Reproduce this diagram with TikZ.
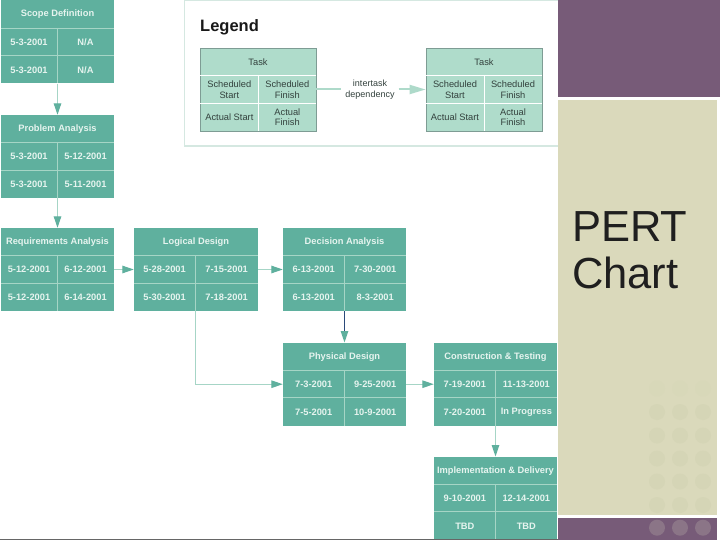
\documentclass[tikz,border=0pt]{standalone}
\usepackage{fontspec}
\setmainfont{Liberation Sans}
\usetikzlibrary{arrows.meta,calc}
\definecolor{teal1}{HTML}{5FB09E}
\definecolor{tealline}{HTML}{A6D5C6}
\definecolor{tealtext}{HTML}{E6F4EF}
\definecolor{leg}{HTML}{AFDCCB}
\definecolor{legborder}{HTML}{7E9C94}
\definecolor{legframe}{HTML}{D5E8E1}
\definecolor{legarrow}{HTML}{AEDACA}
\definecolor{legtext}{HTML}{33413D}
\definecolor{plum}{HTML}{775B78}
\definecolor{beige}{HTML}{DAD9BB}
\definecolor{plumdot}{HTML}{8B7587}
\definecolor{beigedot}{HTML}{D5D5B6}
\definecolor{beigefaint}{HTML}{D8D8B9}
\definecolor{navyline}{HTML}{2B4A7A}
\definecolor{edgegray}{HTML}{666666}
\tikzset{
  mainbox/.style={fill=teal1,inner sep=0pt},
  mainrule/.style={draw=tealline,line width=0.9pt},
  maintitle/.style={text=tealtext,font=\fontsize{9.3}{10.5}\selectfont\bfseries,inner sep=0pt},
  maincell/.style={text=tealtext,font=\fontsize{9.3}{10.5}\selectfont\bfseries,inner sep=0pt},
  legbox/.style={fill=leg,draw=legborder,line width=0.8pt,inner sep=0pt},
  legrule/.style={draw=white,line width=0.8pt},
  legtitle/.style={text=legtext,font=\fontsize{9.3}{10.5}\selectfont,inner sep=0pt},
  legcell/.style={text=legtext,font=\fontsize{9.3}{10.5}\selectfont,inner sep=0pt,align=center},
  flow/.style={draw=tealline,line width=1.2pt,-{Triangle[length=11.5pt,width=7.5pt,color=teal1]}},
  darkflow/.style={draw=navyline,line width=1.2pt,-{Triangle[length=11.5pt,width=7.5pt,color=teal1]}},
  legflow/.style={draw=legarrow,line width=2pt},
  dotp/.style={fill=plumdot,draw=none,circle,minimum size=16pt,inner sep=0pt},
  dotb/.style={fill=beigedot,draw=none,circle,minimum size=16pt,inner sep=0pt},
  dotf/.style={fill=beigefaint,draw=none,circle,minimum size=16pt,inner sep=0pt},
}
% \taskbox{id}{x0}{x1}{xm}{y0}{prefix}{title}  then  \taskcells{a}{b}{c}{d}
\newcommand{\taskbox}[7]{%
  \pgfmathsetmacro{\tw}{#3-#2}\pgfmathsetmacro{\tcx}{(#2+#3)/2}%
  \pgfmathsetmacro{\tcy}{#5+41.5}%
  \pgfmathsetmacro{\tya}{#5+27.5}\pgfmathsetmacro{\tyb}{#5+55}\pgfmathsetmacro{\tyc}{#5+83}%
  \node[#6box,minimum width=\tw pt,minimum height=83pt] (#1) at (\tcx,\tcy) {};
  \draw[#6rule] (#2,\tya) -- (#3,\tya) (#2,\tyb) -- (#3,\tyb) (#4,\tya) -- (#4,\tyc);
  \node[#6title] (#1-title) at (\tcx,#5+14) {#7};
  \def\tid{#1}\def\tstyle{#6cell}%
  \pgfmathsetmacro{\tlx}{(#2+#4)/2}\pgfmathsetmacro{\trx}{(#3+#4)/2}%
  \pgfmathsetmacro{\tra}{#5+41.7}\pgfmathsetmacro{\trb}{#5+69.4}%
}
\newcommand{\taskcells}[4]{%
  \node[\tstyle] (\tid-a) at (\tlx,\tra) {#1};
  \node[\tstyle] (\tid-b) at (\trx,\tra) {#2};
  \node[\tstyle] (\tid-c) at (\tlx,\trb) {#3};
  \node[\tstyle] (\tid-d) at (\trx,\trb) {#4};
}
\begin{document}
\begin{tikzpicture}[x=1pt,y=-1pt]
\useasboundingbox (0,0) rectangle (720,540);
\fill[white] (0,0) rectangle (720,540);
% slide panels
\fill[plum] (558,0) rectangle (720,97);
\fill[beige] (558,100) rectangle (717,514.5);
\fill[plum] (558,518) rectangle (717,540);
\foreach \x in {657,680,703}{
  \node[dotf] at (\x,388.5) {};
  \foreach \y in {412,435.5,458.5,481.5,505}{\node[dotb] at (\x,\y) {};}
  \node[dotp] at (\x,527.7) {};
}
\node[anchor=base west,inner sep=0pt,align=left,text=black!88,font=\fontsize{43.5}{47}\selectfont] (pert) at (572,288) {PERT\\Chart};
% legend
\draw[legframe,line width=1.2pt] (558,0.5) -- (184.5,0.5) -- (184.5,146) -- (558,146);
\node[anchor=base west,inner sep=0pt,font=\fontsize{16.5}{18}\selectfont\bfseries,text=black!90] (legendtitle) at (200,31.5) {Legend};
\taskbox{ltask}{200}{316}{258.7}{48}{leg}{Task}
\taskcells{Scheduled\\Start}{Scheduled\\Finish}{Actual Start}{Actual\\Finish}
\taskbox{rtask}{426}{542}{484}{48}{leg}{Task}
\taskcells{Scheduled\\Start}{Scheduled\\Finish}{Actual Start}{Actual\\Finish}
\node[legcell,inner xsep=4pt,font=\fontsize{9}{10.5}\selectfont] (dep) at (370,89.5) {intertask\\dependency};
\draw[legflow] (ltask.east) -- (dep.west);
\draw[legflow,-{Triangle[length=16pt,width=9pt,color=legarrow]}] (dep.east) -- (rtask.west);
% tasks
\taskbox{scope}{1}{114}{57}{0.5}{main}{Scope Definition}
\taskcells{5-3-2001}{N/A}{5-3-2001}{N/A}
\taskbox{problem}{1}{114}{57}{115}{main}{Problem Analysis}
\taskcells{5-3-2001}{5-12-2001}{5-3-2001}{5-11-2001}
\taskbox{req}{1}{114}{57}{228}{main}{Requirements Analysis}
\taskcells{5-12-2001}{6-12-2001}{5-12-2001}{6-14-2001}
\taskbox{logical}{134}{258}{195.3}{228}{main}{Logical Design}
\taskcells{5-28-2001}{7-15-2001}{5-30-2001}{7-18-2001}
\taskbox{decision}{283}{406}{344.4}{228}{main}{Decision Analysis}
\taskcells{6-13-2001}{7-30-2001}{6-13-2001}{8-3-2001}
\taskbox{physical}{283}{406}{344.4}{342.7}{main}{Physical Design}
\taskcells{7-3-2001}{9-25-2001}{7-5-2001}{10-9-2001}
\taskbox{construct}{434}{557}{495.7}{342.7}{main}{Construction \& Testing}
\taskcells{7-19-2001}{11-13-2001}{7-20-2001}{In Progress}
\taskbox{impl}{434}{557}{495.7}{456.7}{main}{Implementation \& Delivery}
\taskcells{9-10-2001}{12-14-2001}{TBD}{TBD}
% connectors
\draw[flow] (scope.south) -- (problem.north);
\draw[flow] (problem.south) -- (req.north);
\draw[flow] (req.east) -- (logical.west);
\draw[flow] (logical.east) -- (decision.west);
\coordinate (ltap) at (195.3,311);
\draw[flow] (ltap) |- (physical.west);
\draw[darkflow] (decision.south) -- (physical.north);
\draw[flow] (physical.east) -- (construct.west);
\draw[flow] (construct.south) -- (impl.north);
% page edge
\draw[edgegray,line width=1pt] (0,539.5) -- (558,539.5);
\end{tikzpicture}
\end{document}
